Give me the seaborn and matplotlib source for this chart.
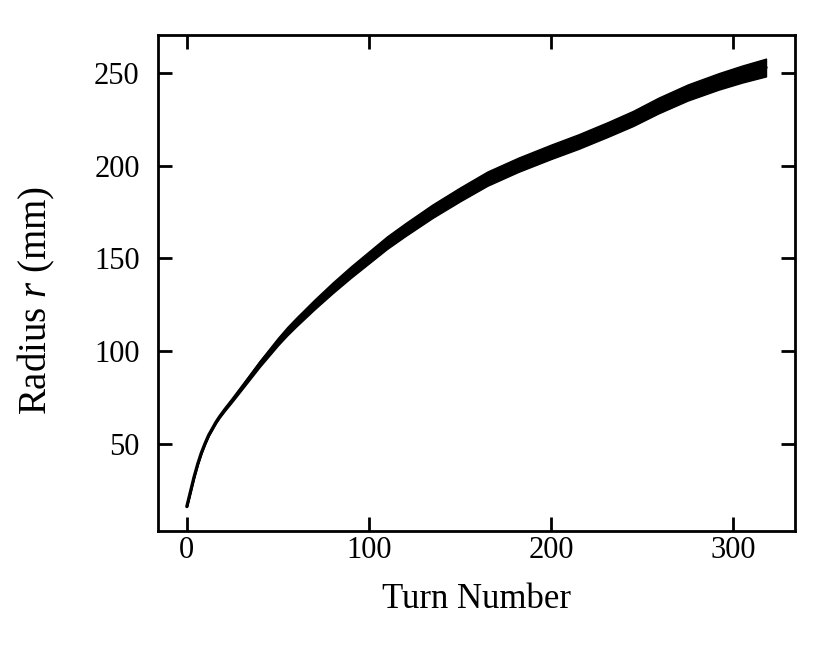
import matplotlib
matplotlib.use("Agg")
import matplotlib.pyplot as plt
import seaborn as sns
import numpy as np
import pandas as pd

# Data
turn = [0, 2, 4, 6, 8, 10, 12, 14, 16, 18, 21, 25, 30, 35, 40, 45, 50, 55, 60, 70, 80, 90,
        100, 110, 120, 135, 150, 165, 182, 200, 215, 231, 245, 259, 275, 292, 305, 318]
r_mid = [16, 24, 32, 39, 45, 50, 54.5, 58, 61.5, 64.5, 68.5, 73.5, 80, 86.5, 93, 99, 105,
         110.5, 115.5, 125, 134, 142.5, 150.5, 158.5, 165.5, 175.5, 184.5, 193, 200.5, 207.5,
         213, 219.5, 225.5, 232.5, 239.5, 245.5, 249.5, 253]
band = [0.3, 0.3, 0.4, 0.4, 0.5, 0.6, 0.7, 0.8, 0.9, 1.1, 1.4, 1.8, 2.3, 2.8, 3.3, 3.7, 4.1,
        4.5, 4.8, 5.3, 5.8, 6.2, 6.5, 6.8, 7.0, 7.3, 7.5, 7.7, 7.7, 7.8, 7.9, 8.0, 8.2, 8.5,
        8.7, 8.9, 9.2, 9.6]

df = pd.DataFrame({"turn": turn, "r": r_mid, "w": band})
df["lo"] = df["r"] - df["w"] / 2
df["hi"] = df["r"] + df["w"] / 2

sns.set_style("white")
plt.rcParams["font.family"] = ["Liberation Serif", "DejaVu Serif"]
plt.rcParams["mathtext.fontset"] = "custom"
plt.rcParams["mathtext.rm"] = "Liberation Serif"
plt.rcParams["mathtext.it"] = "Liberation Serif:italic"
plt.rcParams["text.color"] = "black"
plt.rcParams["axes.labelcolor"] = "black"
plt.rcParams["xtick.color"] = "black"
plt.rcParams["ytick.color"] = "black"

fig = plt.figure(figsize=(8.3, 6.66), dpi=100)
ax = fig.add_axes([0.190, 0.203, 0.768, 0.744])

ax.fill_between(df["turn"], df["lo"], df["hi"], color="black", lw=1.0, edgecolor="black")
sns.lineplot(data=df, x="turn", y="r", ax=ax, color="black", lw=2.4, sort=True)

ax.set_xlim(-16, 334)
ax.set_ylim(2.9, 270.4)
ax.set_xticks([0, 100, 200, 300])
ax.set_yticks([50, 100, 150, 200, 250])
ax.set_xlabel("Turn Number", fontsize=25, labelpad=13)
ax.set_ylabel("Radius $r$ (mm)", fontsize=28)
ax.yaxis.set_label_coords(-0.158, 0.466)
ax.tick_params(direction="in", length=10, width=2, labelsize=22,
               top=True, right=True, bottom=True, left=True)
ax.tick_params(axis="x", pad=4)
ax.tick_params(axis="y", pad=13)
for s in ax.spines.values():
    s.set_linewidth(2)
    s.set_color("black")

fig.savefig("out.png", dpi=100)
